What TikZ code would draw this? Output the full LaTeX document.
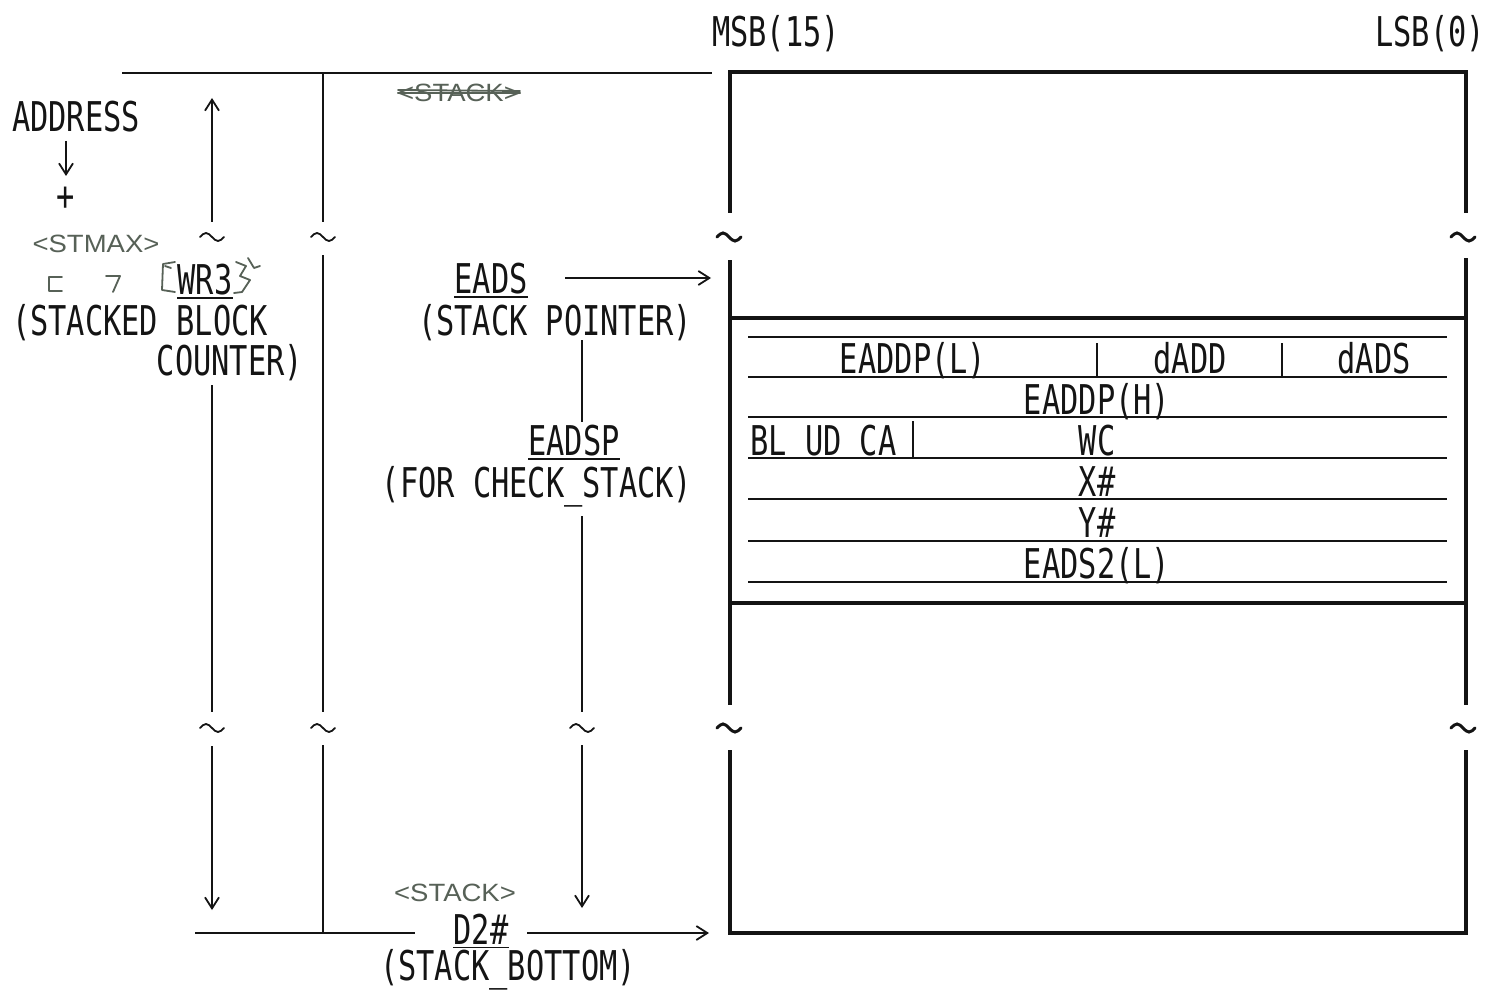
\documentclass[tikz,border=0pt]{standalone}
\usepackage{fontspec}
\setmainfont{DejaVu Sans Mono}[FakeStretch=0.74]
\newfontfamily\handfont{Liberation Sans}[FakeStretch=1.1]
\usetikzlibrary{arrows.meta}
\definecolor{ink}{rgb}{0.08,0.08,0.08}
\definecolor{hand}{rgb}{0.34,0.38,0.34}
\newcommand\mytilde[3]{\draw[line width=#3, draw=ink, line cap=round] (#1-12,#2) sin (#1-6,#2-4) cos (#1,#2) sin (#1+6,#2+4) cos (#1+12,#2);}
\begin{document}
\begin{tikzpicture}[x=1pt,y=-1pt,
  lbl/.style={font=\fontsize{41}{41}\selectfont, inner sep=0pt, text=ink, anchor=base},
  thinline/.style={line width=1.6pt, draw=ink},
  thickline/.style={line width=4.5pt, draw=ink, line join=miter},
  rowline/.style={line width=2pt, draw=ink},
  arr/.style={-{Straight Barb[length=11pt,width=14pt,line width=1.8pt]}},
  hw/.style={font=\handfont\fontsize{25}{25}\selectfont, text=hand, inner sep=0pt},
  hwline/.style={draw=hand, line width=1.8pt, line cap=round, line join=round},
]
\useasboundingbox[fill=white] (0,0) rectangle (1487,992);

% ---------- headings ----------
\node[lbl] (msb) at (776,47) {MSB(15)};
\node[lbl] (lsb) at (1430,47) {LSB(0)};

% ---------- left labels ----------
\node[lbl] (addr) at (76,132) {ADDRESS};
\node[lbl] (plus) at (66,211) {+};
\coordinate (a1) at (66,141);
\coordinate (a2) at (66,176);
\draw[thinline,arr] (a1) -- (a2);

\node[hw] (stmax) at (96,244) {<STMAX>};
\draw[hwline] (62,277) -- (49,277) -- (49,291) -- (62,291);
\draw[hwline] (106,276) -- (120,276) -- (113,292);

\node[lbl] (wr3) at (205,294) {WR3};
\draw[thinline] ([yshift=-4pt]wr3.base west) -- ([yshift=-4pt]wr3.base east);
\draw[hwline] (175,262) -- (163,264) -- (162,290) -- (175,292);
\draw[hwline] (165,266) -- (171,268);
\draw[hwline] (236,262) -- (246,266) -- (240,276) -- (250,280) -- (242,292) -- (234,293);
\draw[hwline] (248,258) -- (254,268) -- (260,266);

\node[lbl] (stk1) at (140,335) {(STACKED BLOCK};
\node[lbl] (stk2) at (230,375) {COUNTER)};

% ---------- middle labels ----------
\node[hw] (stkold) at (459,93) {<STACK>};
\draw[hwline] (stkold.west) -- (stkold.east);
\draw[hwline] ([yshift=3pt]stkold.west) -- ([yshift=2pt]stkold.east);

\node[lbl] (eads) at (491,293) {EADS};
\draw[thinline] ([yshift=-4pt]eads.base west) -- ([yshift=-4pt]eads.base east);
\node[lbl] (sp) at (555,335) {(STACK POINTER)};

\node[lbl] (eadsp) at (574,455) {EADSP};
\draw[thinline] ([yshift=-4pt]eadsp.base west) -- ([yshift=-4pt]eadsp.base east);
\node[lbl] (chk) at (537,497) {(FOR CHECK\_STACK)};

\node[hw] (stknew) at (455,893) {<STACK>};
\node[lbl] (d2) at (481,944) {D2\#};
\draw[thinline] ([yshift=-3.5pt]d2.base west) -- ([yshift=-3.5pt]d2.base east);
\node[lbl] (sb) at (508,980) {(STACK\_BOTTOM)};

% ---------- guide lines ----------
\coordinate (topL) at (122,73);
\coordinate (topR) at (712,73);
\draw[thinline] (topL) -- (topR);

% column at x=212
\draw[thinline,arr] (212,222) -- (212,98);
\draw[thinline] (212,385) -- (212,712);
\draw[thinline,arr] (212,746) -- (212,910);
% column at x=323
\draw[thinline] (323,73) -- (323,222);
\draw[thinline] (323,255) -- (323,712);
\draw[thinline] (323,745) -- (323,933);
% column at x=582
\draw[thinline] (582,340) -- (582,422);
\draw[thinline] (582,516) -- (582,712);
\draw[thinline,arr] (582,745) -- (582,908);

% bottom line and arrows
\coordinate (botL) at (195,933);
\coordinate (botM) at (415,933);
\draw[thinline] (botL) -- (botM);
\coordinate (d2s) at (527,933);
\coordinate (d2e) at (709,933);
\draw[thinline,arr] (d2s) -- (d2e);
\coordinate (eadss) at (565,278);
\coordinate (eadse) at (711,278);
\draw[thinline,arr] (eadss) -- (eadse);

% tildes
\mytilde{212}{237}{1.8pt}
\mytilde{323}{237}{1.8pt}
\mytilde{212}{728}{1.8pt}
\mytilde{323}{728}{1.8pt}
\mytilde{582}{728}{1.8pt}
\mytilde{729}{237}{3pt}
\mytilde{1463}{237}{3pt}
\mytilde{729}{728}{3pt}
\mytilde{1463}{728}{3pt}

% ---------- memory box ----------
\draw[thickline] (730,213) -- (730,72) -- (1466,72) -- (1466,213);
\draw[thickline] (730,260) -- (730,705);
\draw[thickline] (1466,258) -- (1466,705);
\draw[thickline] (730,750) -- (730,933) -- (1466,933) -- (1466,750);
\draw[thickline] (730,318) -- (1466,318);
\draw[thickline] (730,603) -- (1466,603);

% table rows
\foreach \yy in {337,377,417,458,499,541,582}
  \draw[rowline] (748,\yy) -- (1447,\yy);
\draw[rowline] (1097,343) -- (1097,376);
\draw[rowline] (1282,343) -- (1282,376);
\draw[rowline] (913,421) -- (913,457);

\node[lbl] (eaddpl) at (913,373) {EADDP(L)};
\node[lbl] (dadd) at (1190,373) {dADD};
\node[lbl] (dads) at (1374,373) {dADS};
\node[lbl] (eaddph) at (1097,414) {EADDP(H)};
\node[lbl, anchor=base west] (bl) at (750,455) {BL UD CA};
\node[lbl] (wc) at (1097,455) {WC};
\node[lbl] (xn) at (1097,496) {X\#};
\node[lbl] (yn) at (1097,537) {Y\#};
\node[lbl] (eads2) at (1097,578) {EADS2(L)};
\end{tikzpicture}
\end{document}
